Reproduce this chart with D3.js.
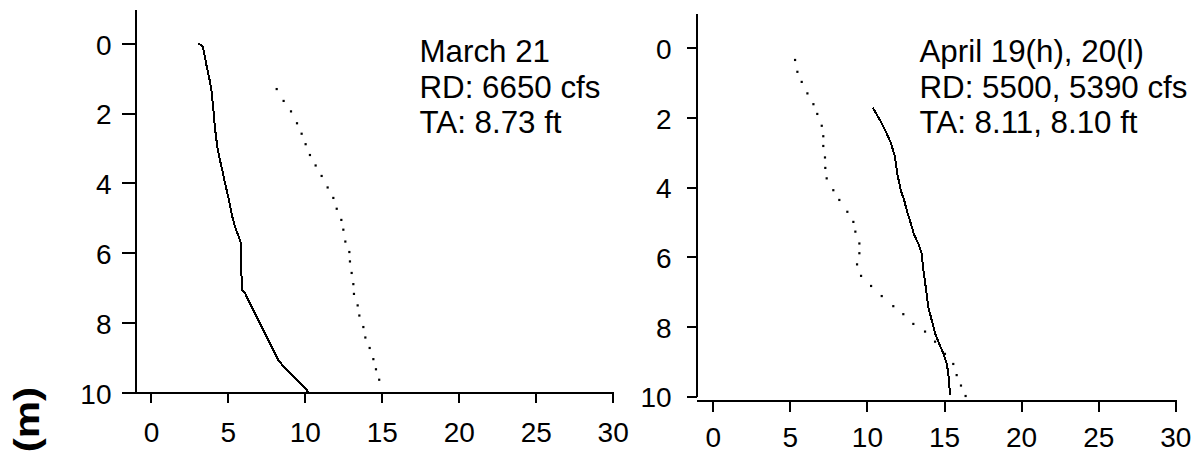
<!DOCTYPE html>
<html>
<head>
<meta charset="utf-8">
<script src="https://cdn.jsdelivr.net/npm/d3@7/dist/d3.min.js"></script>
<style>
  html, body { margin: 0; padding: 0; background: #fff; }
  svg { display: block; }
  text { font-family: "Liberation Sans", Arial, Helvetica, sans-serif; fill: #000; }
</style>
</head>
<body>
<svg id="chart" width="1202" height="452"></svg>
<script>
// Velocity profiles: depth (m) vs velocity, two profiles per panel
const yTicks = [0, 2, 4, 6, 8, 10];
const xTicks = [0, 5, 10, 15, 20, 25, 30];

// March 21 — solid profile
const marchSolidDepth = [0, 0.09, 0.38, 0.66, 1.0, 1.38, 1.86, 2.43, 2.96, 3.34, 3.62, 4.0, 4.39, 4.96, 5.25, 5.72, 6.3, 7.06, 7.16, 7.55, 7.92, 8.31, 8.69, 9.07, 9.26, 9.55, 9.93, 10.0];
const marchSolidVel   = [3.07, 3.36, 3.51, 3.62, 3.79, 3.94, 4.05, 4.16, 4.31, 4.48, 4.63, 4.81, 5.02, 5.28, 5.46, 5.85, 5.87, 5.9, 6.11, 6.54, 6.97, 7.41, 7.84, 8.27, 8.6, 9.25, 10.12, 10.2];
// March 21 — dotted profile
const marchDotDepth = [1.31, 1.65, 1.95, 2.29, 2.59, 2.89, 3.2, 3.5, 3.8, 4.13, 4.43, 4.74, 5.06, 5.34, 5.68, 5.98, 6.25, 6.58, 6.9, 7.18, 7.51, 7.8, 8.13, 8.43, 8.73, 9.05, 9.34, 9.64];
const marchDotVel   = [8.17, 8.62, 9.1, 9.49, 9.79, 10.05, 10.33, 10.7, 11.09, 11.48, 11.85, 12.07, 12.37, 12.5, 12.63, 12.89, 12.93, 13.04, 13.15, 13.19, 13.43, 13.54, 13.8, 13.93, 14.21, 14.45, 14.62, 14.83];

// April 19/20 — solid profile
const aprilSolidDepth = [1.72, 2.08, 2.46, 2.74, 3.13, 3.61, 4.09, 4.37, 4.66, 5.04, 5.38, 5.62, 5.9, 6.38, 6.86, 7.44, 7.82, 8.2, 8.49, 8.77, 9.06, 9.35, 9.97];
const aprilSolidVel   = [10.38, 10.85, 11.28, 11.56, 11.82, 11.97, 12.19, 12.41, 12.58, 12.84, 13.07, 13.33, 13.55, 13.66, 13.81, 13.98, 14.2, 14.42, 14.68, 14.95, 15.17, 15.28, 15.39];
// April 19/20 — dotted profile
const aprilDotDepth = [0.35, 0.69, 0.98, 1.31, 1.62, 1.9, 2.24, 2.54, 2.82, 3.15, 3.45, 3.75, 4.09, 4.37, 4.71, 5.0, 5.28, 5.62, 5.9, 6.22, 6.55, 6.84, 7.13, 7.42, 7.65, 7.93, 8.15, 8.44, 8.79, 9.08, 9.4, 9.7, 10.0];
const aprilDotVel   = [5.34, 5.49, 5.77, 6.14, 6.53, 6.78, 7.07, 7.17, 7.17, 7.28, 7.3, 7.39, 7.82, 8.21, 8.73, 9.12, 9.25, 9.51, 9.51, 9.36, 9.62, 10.27, 10.96, 11.71, 12.36, 13.01, 13.77, 14.42, 15.06, 15.6, 15.82, 16.1, 16.4];

const marchLabels = ["March 21", "RD: 6650 cfs", "TA: 8.73 ft"];
const aprilLabels = ["April 19(h), 20(l)", "RD: 5500, 5390 cfs", "TA: 8.11, 8.10 ft"];

const svg = d3.select("#chart");
const pts = (depth, vel) => depth.map((d, i) => [vel[i], d]);

function panel(cfg) {
  const x = d3.scaleLinear().domain(cfg.xDomain).range(cfg.xRange);
  const y = d3.scaleLinear().domain(cfg.yDomain).range(cfg.yRange);
  const g = svg.append("g");

  // y axis
  const ya = g.append("g")
    .attr("transform", `translate(${cfg.xRange[0] + cfg.yAxisShift},0)`)
    .call(d3.axisLeft(y).tickValues(yTicks).tickSize(cfg.yTickLen).tickSizeOuter(0).tickPadding(cfg.yPad));
  // x axis
  const xa = g.append("g")
    .attr("transform", `translate(0,${cfg.xAxisY})`)
    .call(d3.axisBottom(x).tickValues(xTicks).tickSize(cfg.xTickLen).tickSizeOuter(0));

  [ya, xa].forEach(a => {
    a.attr("font-size", null).attr("font-family", null);
    a.select(".domain").attr("stroke", "#000").attr("stroke-width", 2).attr("shape-rendering", "crispEdges");
    a.selectAll(".tick line").attr("stroke", "#000").attr("stroke-width", 2).attr("shape-rendering", "crispEdges");
    a.selectAll(".tick text").style("font-size", "28px").attr("fill", "#000");
  });
  ya.selectAll(".tick text").attr("dy", "0.385em");
  xa.selectAll(".tick text").attr("dy", 0).attr("y", cfg.xLabelBase);

  // solid profile
  g.append("path")
    .datum(pts(cfg.solidDepth, cfg.solidVel))
    .attr("fill", "none").attr("stroke", "#000").attr("stroke-width", 2)
    .attr("shape-rendering", "crispEdges")
    .attr("d", d3.line().x(p => x(p[0])).y(p => y(p[1])));

  // dotted profile
  g.append("g").selectAll("rect")
    .data(pts(cfg.dotDepth, cfg.dotVel))
    .join("rect")
    .attr("x", p => x(p[0]) - 1.1).attr("y", p => y(p[1]) - 1.1)
    .attr("width", 2.2).attr("height", 2.2).attr("fill", "#000");

  // annotation block
  g.append("g").selectAll("text")
    .data(cfg.labels)
    .join("text")
    .attr("x", cfg.labelX)
    .attr("y", (d, i) => 62.3 + i * 35.5)
    .style("font-size", "31.3px")
    .text(d => d);
}

panel({
  xDomain: [-1.88, 30], xRange: [122, 612.7],
  yDomain: [-0.97, 10], yRange: [9.5, 392.3],
  yAxisShift: 13, yTickLen: 13, yPad: 10.5,
  xAxisY: 392.3, xTickLen: 11, xLabelBase: 49.4,
  solidDepth: marchSolidDepth, solidVel: marchSolidVel,
  dotDepth: marchDotDepth, dotVel: marchDotVel,
  labels: marchLabels, labelX: 419.5
});

panel({
  xDomain: [-1.04, 30], xRange: [696.7, 1175.3],
  yDomain: [-0.99, 10], yRange: [13.3, 396],
  yAxisShift: 0, yTickLen: 10, yPad: 15,
  xAxisY: 400, xTickLen: 11.5, xLabelBase: 46.5,
  solidDepth: aprilSolidDepth, solidVel: aprilSolidVel,
  dotDepth: aprilDotDepth, dotVel: aprilDotVel,
  labels: aprilLabels, labelX: 919.5
});

// vertical axis unit, partly outside the frame
svg.append("text")
  .attr("transform", "translate(39,387) rotate(-90) scale(1.2,1)")
  .attr("text-anchor", "end")
  .style("font-size", "35px")
  .attr("font-weight", "bold")
  .text("(m)");
</script>
</body>
</html>
